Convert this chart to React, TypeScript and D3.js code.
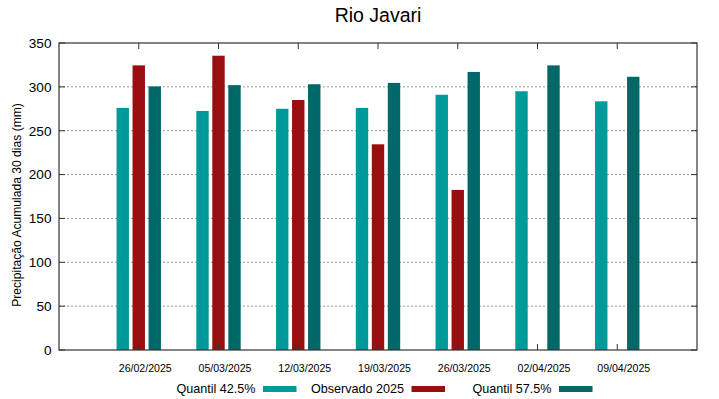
import React from 'react';
import * as d3 from 'd3';

const dates = ['26/02/2025', '05/03/2025', '12/03/2025', '19/03/2025', '26/03/2025', '02/04/2025', '09/04/2025'];
const quantil425 = [276, 272.5, 275, 276, 291, 295, 283.5];
const observado2025: (number | null)[] = [324.5, 335.5, 285, 234.5, 182.5, null, null];
const quantil575 = [300.5, 302, 303, 304.5, 317, 324.5, 311.5];
const yTicks = [0, 50, 100, 150, 200, 250, 300, 350];

const seriesNames = ['Quantil 42.5%', 'Observado 2025', 'Quantil 57.5%'];
const colors = ['#009a9a', '#990e0e', '#006866'];

export default function App() {
  const width = 719;
  const height = 399;
  const margin = { top: 43, right: 22, bottom: 49, left: 59 };
  const innerW = width - margin.left - margin.right;
  const innerH = height - margin.top - margin.bottom;

  // x runs from -1 to n like the gnuplot histogram
  const x = d3.scaleLinear().domain([-1, dates.length]).range([0, innerW]);
  const y = d3.scaleLinear().domain([0, 350]).range([innerH, 0]);

  const barW = 12.4;
  const offsets = [-16, 0, 16];
  const series = [quantil425, observado2025, quantil575];

  // legend sample boxes
  const legendX = [263, 411.5, 559];

  return (
    <svg width={width} height={height} style={{ position: 'absolute', left: 0, top: 0, background: '#fff' }}
      fontFamily="'Liberation Sans', Arial, sans-serif">
      <text x={378} y={22} textAnchor="middle" fontSize={19.5} fill="#000">Rio Javari</text>
      <text transform={`translate(21,205) rotate(-90)`} textAnchor="middle" fontSize={12.1} fill="#000">
        Precipitação Acumulada 30 dias (mm)
      </text>
      <g transform={`translate(${margin.left},${margin.top})`}>
        {yTicks.map((t) => (
          <g key={t}>
            {t > 0 && t < 350 && (
              <line x1={0} x2={innerW} y1={y(t)} y2={y(t)} stroke="#999" strokeWidth={1} strokeDasharray="2,2" />
            )}
            <line x1={0} x2={6} y1={y(t)} y2={y(t)} stroke="#333" />
            <line x1={innerW - 6} x2={innerW} y1={y(t)} y2={y(t)} stroke="#333" />
            <text x={-7.5} y={y(t)} dy="0.36em" textAnchor="end" fontSize={13.6} fill="#000">{t}</text>
          </g>
        ))}
        {series.map((vals, si) =>
          vals.map((v, i) =>
            v == null ? null : (
              <rect key={`${si}-${i}`} x={x(i) + offsets[si] - barW / 2} y={y(v)} width={barW}
                height={innerH - y(v)} fill={colors[si]} />
            )
          )
        )}
        {dates.map((d, i) => (
          <g key={d}>
            <line x1={x(i)} x2={x(i)} y1={0} y2={6} stroke="#333" />
            <line x1={x(i)} x2={x(i)} y1={innerH} y2={innerH - 6} stroke="#333" />
            <text x={x(i) + 6.5} y={371.7 - margin.top} textAnchor="middle" fontSize={10.6} fill="#000">{d}</text>
          </g>
        ))}
        <rect x={0} y={0} width={innerW} height={innerH} fill="none" stroke="#333" strokeWidth={1.2} />
      </g>
      {seriesNames.map((name, i) => (
        <g key={name}>
          <text x={legendX[i] - 7.5} y={392.5} textAnchor="end" fontSize={12.6} fill="#000">{name}</text>
          <rect x={legendX[i]} y={386} width={33.5} height={6} fill={colors[i]} />
        </g>
      ))}
    </svg>
  );
}
